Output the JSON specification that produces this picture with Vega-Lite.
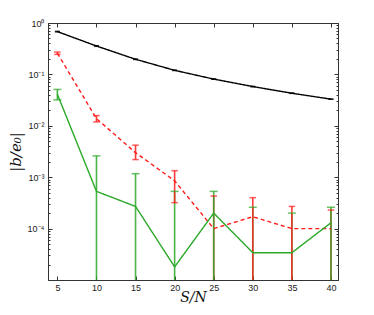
{
  "$schema": "https://vega.github.io/schema/vega-lite/v6.json",
  "autosize": {"type": "none"},
  "width": 290,
  "height": 257,
  "padding": {"left": 48, "top": 23, "right": 36, "bottom": 35},
  "background": "white",
  "config": {
    "view": {"stroke": "#333", "strokeWidth": 1},
    "axis": {"domainColor": "#333", "tickColor": "#333", "labelColor": "#222", "labelFont": "Liberation Sans", "labelFontSize": 9, "grid": false}
  },
  "datasets": {
    "lines": [
      {"series": "black", "x": 5, "y": 0.68},
      {"series": "black", "x": 10, "y": 0.357},
      {"series": "black", "x": 15, "y": 0.197},
      {"series": "black", "x": 20, "y": 0.12},
      {"series": "black", "x": 25, "y": 0.081},
      {"series": "black", "x": 30, "y": 0.058},
      {"series": "black", "x": 35, "y": 0.043},
      {"series": "black", "x": 40, "y": 0.033},
      {"series": "red", "x": 5, "y": 0.258},
      {"series": "red", "x": 10, "y": 0.0138},
      {"series": "red", "x": 15, "y": 0.003},
      {"series": "red", "x": 20, "y": 0.00085},
      {"series": "red", "x": 25, "y": 0.0001},
      {"series": "red", "x": 30, "y": 0.00017},
      {"series": "red", "x": 35, "y": 0.0001},
      {"series": "red", "x": 40, "y": 0.0001},
      {"series": "green", "x": 5, "y": 0.041},
      {"series": "green", "x": 10, "y": 0.00053},
      {"series": "green", "x": 15, "y": 0.00027},
      {"series": "green", "x": 20, "y": 0.000018},
      {"series": "green", "x": 25, "y": 0.0002},
      {"series": "green", "x": 30, "y": 0.000034},
      {"series": "green", "x": 35, "y": 0.000034},
      {"series": "green", "x": 40, "y": 0.00013}
    ],
    "bars": [
      {"series": "black", "x": 5, "lo": 0.67, "hi": 0.69},
      {"series": "black", "x": 10, "lo": 0.352, "hi": 0.362},
      {"series": "black", "x": 15, "lo": 0.195, "hi": 0.199},
      {"series": "black", "x": 20, "lo": 0.119, "hi": 0.121},
      {"series": "black", "x": 25, "lo": 0.0805, "hi": 0.0815},
      {"series": "black", "x": 30, "lo": 0.0577, "hi": 0.0583},
      {"series": "black", "x": 35, "lo": 0.0428, "hi": 0.0432},
      {"series": "black", "x": 40, "lo": 0.0329, "hi": 0.0331},
      {"series": "green", "x": 5, "lo": 0.032, "hi": 0.051},
      {"series": "green", "x": 10, "lo": 0.0000001, "hi": 0.0026},
      {"series": "green", "x": 15, "lo": 0.0000001, "hi": 0.00117},
      {"series": "green", "x": 20, "lo": 0.0000001, "hi": 0.00053},
      {"series": "green", "x": 30, "lo": 0.0000001, "hi": 0.00026},
      {"series": "green", "x": 35, "lo": 0.0000001, "hi": 0.0002},
      {"series": "red", "x": 5, "lo": 0.245, "hi": 0.272},
      {"series": "red", "x": 10, "lo": 0.0119, "hi": 0.0158},
      {"series": "red", "x": 15, "lo": 0.0022, "hi": 0.0042},
      {"series": "red", "x": 20, "lo": 0.00032, "hi": 0.00134},
      {"series": "red", "x": 25, "lo": 0.0000001, "hi": 0.00043},
      {"series": "red", "x": 30, "lo": 0.0000001, "hi": 0.0004},
      {"series": "red", "x": 35, "lo": 0.0000001, "hi": 0.00027},
      {"series": "red", "x": 40, "lo": 0.0000001, "hi": 0.00023},
      {"series": "green", "x": 25, "lo": 0.0000001, "hi": 0.00053},
      {"series": "green", "x": 40, "lo": 0.0000001, "hi": 0.00026}
    ]
  },
  "resolve": {"axis": {"x": "independent", "y": "independent"}},
  "layer": [
    {
      "data": {"name": "bars"},
      "mark": {"type": "rule", "clip": true, "strokeWidth": 1.6, "opacity": 0.85},
      "encoding": {
        "x": {"field": "x", "type": "quantitative",
          "scale": {"domain": [3.8, 40.9], "nice": false, "zero": false},
          "axis": {"orient": "bottom", "values": [5, 10, 15, 20, 25, 30, 35, 40], "tickSize": -4, "labelPadding": 7,
            "title": "S/N", "titleFont": "DejaVu Serif", "titleFontStyle": "italic", "titleFontWeight": "normal", "titleFontSize": 14, "titlePadding": -2, "titleColor": "#111"}},
        "y": {"field": "lo", "type": "quantitative",
          "scale": {"type": "log", "domain": [0.00001, 1], "nice": false},
          "axis": {"orient": "left",
            "values": [1, 0.9, 0.8, 0.7, 0.6, 0.5, 0.4, 0.3, 0.2, 0.1, 0.09, 0.08, 0.07, 0.06, 0.05, 0.04, 0.03, 0.02, 0.01, 0.009, 0.008, 0.007, 0.006, 0.005, 0.004, 0.003, 0.002, 0.001, 0.0009, 0.0008, 0.0007, 0.0006, 0.0005, 0.0004, 0.0003, 0.0002, 0.0001, 0.00009, 0.00008, 0.00007, 0.00006, 0.00005, 0.00004, 0.00003, 0.00002],
            "tickSize": {"condition": {"test": "abs(log(datum.value)/LN10 - round(log(datum.value)/LN10)) < 0.001", "value": -4}, "value": -2},
            "labelPadding": 8,
            "labelExpr": "datum.value == 1 ? '10⁰' : datum.value == 0.1 ? '10⁻¹' : datum.value == 0.01 ? '10⁻²' : datum.value == 0.001 ? '10⁻³' : datum.value == 0.0001 ? '10⁻⁴' : ''",
            "title": "|b/e₀|", "titleFont": "DejaVu Serif", "titleFontStyle": "italic", "titleFontWeight": "normal", "titleFontSize": 15, "titlePadding": 4, "titleColor": "#111"}},
        "y2": {"field": "hi"},
        "color": {"field": "series", "type": "nominal", "scale": {"domain": ["black", "red", "green"], "range": ["#000000", "#ff1a1a", "#2aa827"]}, "legend": null}
      }
    },
    {
      "data": {"name": "bars"},
      "mark": {"type": "tick", "clip": true, "orient": "horizontal", "thickness": 1.5},
      "encoding": {
        "x": {"field": "x", "type": "quantitative",
          "axis": {"orient": "top", "values": [5, 10, 15, 20, 25, 30, 35, 40], "tickSize": -4, "labels": false, "title": null}},
        "y": {"field": "hi", "type": "quantitative",
          "axis": {"orient": "right",
            "values": [1, 0.9, 0.8, 0.7, 0.6, 0.5, 0.4, 0.3, 0.2, 0.1, 0.09, 0.08, 0.07, 0.06, 0.05, 0.04, 0.03, 0.02, 0.01, 0.009, 0.008, 0.007, 0.006, 0.005, 0.004, 0.003, 0.002, 0.001, 0.0009, 0.0008, 0.0007, 0.0006, 0.0005, 0.0004, 0.0003, 0.0002, 0.0001, 0.00009, 0.00008, 0.00007, 0.00006, 0.00005, 0.00004, 0.00003, 0.00002],
            "tickSize": {"condition": {"test": "abs(log(datum.value)/LN10 - round(log(datum.value)/LN10)) < 0.001", "value": -4}, "value": -2},
            "labels": false, "title": null}},
        "size": {"field": "series", "type": "nominal", "scale": {"domain": ["black", "red", "green"], "range": [5, 8, 8]}, "legend": null},
        "color": {"field": "series", "type": "nominal", "legend": null}
      }
    },
    {
      "data": {"name": "bars"},
      "mark": {"type": "tick", "clip": true, "orient": "horizontal", "thickness": 1.5},
      "encoding": {
        "x": {"field": "x", "type": "quantitative", "axis": null},
        "y": {"field": "lo", "type": "quantitative", "axis": null},
        "size": {"field": "series", "type": "nominal", "legend": null},
        "color": {"field": "series", "type": "nominal", "legend": null}
      }
    },
    {
      "data": {"name": "lines"},
      "mark": {"type": "line", "clip": true, "strokeWidth": 1.4},
      "encoding": {
        "x": {"field": "x", "type": "quantitative", "axis": null},
        "y": {"field": "y", "type": "quantitative", "axis": null},
        "color": {"field": "series", "type": "nominal", "legend": null},
        "strokeDash": {"field": "series", "type": "nominal", "scale": {"domain": ["black", "red", "green"], "range": [[1, 0], [4, 3], [1, 0]]}, "legend": null}
      }
    }
  ]
}
